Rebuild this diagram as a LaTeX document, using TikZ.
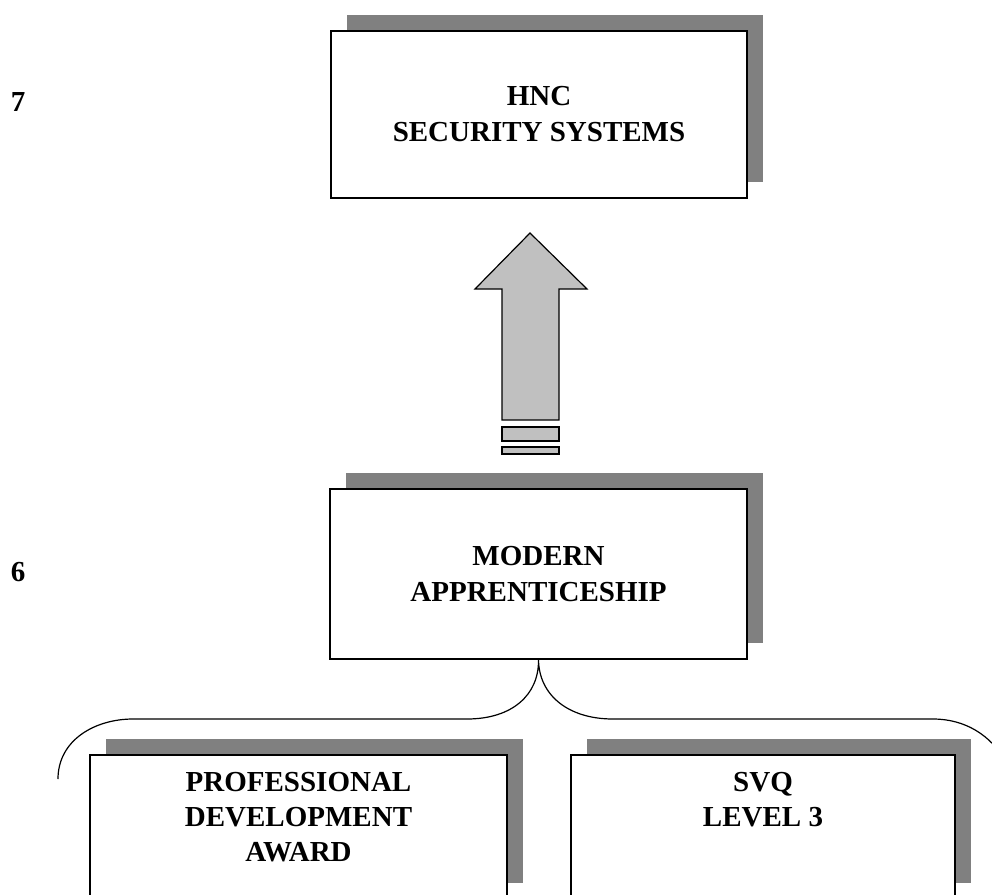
\documentclass[tikz,border=0pt]{standalone}
\usepackage{fontspec}
\setmainfont{Liberation Serif}
\usepackage{xcolor}
\usetikzlibrary{positioning,shadows}
\definecolor{shadowgray}{RGB}{128,128,128}
\definecolor{arrowgray}{RGB}{192,192,192}

\begin{document}
\begin{tikzpicture}[x=1pt,y=-1pt,
  box/.style={draw,line width=1.6pt,fill=white,align=center,
    font=\fontsize{29}{36}\selectfont\bfseries,
    general shadow={fill=shadowgray,shadow xshift=16pt,shadow yshift=16pt}},
  lvl/.style={align=center,font=\fontsize{29}{35}\selectfont\bfseries},
  blk/.style={draw,line width=1.2pt,fill=arrowgray,line join=miter}]

\useasboundingbox (0,0) rectangle (992,894);
\clip (0,0) rectangle (992,894);

% levels
\node[lvl] (seven) at (18,102) {7};
\node[lvl] (six) at (18,572) {6};

% boxes
\node[box,minimum width=416pt,minimum height=167pt] (hnc) at (539,114.5) {HNC\\SECURITY SYSTEMS};
\node[box,minimum width=417pt,minimum height=170pt] (ma) at (538.5,574) {MODERN\\APPRENTICESHIP};
\node[box,minimum width=417pt,minimum height=144pt] (pda) at (298.5,827) {};
\node[box,minimum width=384pt,minimum height=144pt] (svq) at (763,827) {};
\node[lvl,below=15pt of pda.north] (pdatext) {PROFESSIONAL\\DEVELOPMENT\\AWARD};
\node[lvl,below=15pt of svq.north] (svqtext) {SVQ\\LEVEL 3};

% block arrow
\coordinate (tip) at (530,233);
\draw[blk] (tip)--(587,289)--(559,289)--(559,420)--(502,420)--(502,289)--(475,289)--cycle;
\draw[blk] (502,427) rectangle (559,441);
\draw[blk] (502,447) rectangle (559,454);

% brace
\draw[line width=1.2pt] (58,779) .. controls (58,740) and (95,719) .. (133,719) -- (467,719)
  .. controls (512,719) and (539,695) .. (ma.south)
  .. controls (539,695) and (568,719) .. (613,719) -- (933,719)
  .. controls (965,719) and (990,735) .. (1005,760);
\end{tikzpicture}
\end{document}
